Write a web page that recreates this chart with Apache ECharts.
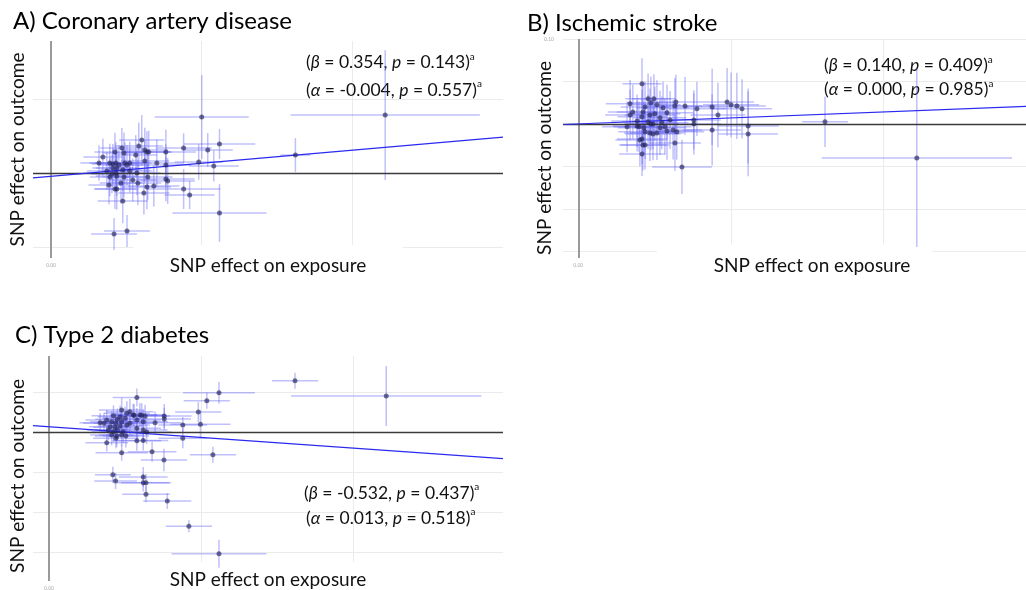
<!DOCTYPE html>
<html>
<head>
<meta charset="utf-8">
<script src="https://cdn.jsdelivr.net/npm/echarts@6/dist/echarts.min.js"></script>
<style>
html,body{margin:0;padding:0;background:#fff;}
#chart{width:1026px;height:590px;}
</style>
</head>
<body>
<div id="chart"></div>
<script>
// ---------- text ----------
const panelTitles = ['A) Coronary artery disease', 'B) Ischemic stroke', 'C) Type 2 diabetes'];
const xAxisTitle = 'SNP effect on exposure';
const yAxisTitle = 'SNP effect on outcome';

// ---------- regression statistics ----------
const betas   = [0.354, 0.140, -0.532];
const betaPs  = [0.143, 0.409, 0.437];
const alphas  = [-0.004, 0.000, 0.013];
const alphaPs = [0.557, 0.985, 0.518];

// ---------- axis ranges and tick values ----------
const xMins = [-0.006, -0.005, -0.00526];
const xMaxs = [0.150, 0.1468, 0.1493];
const yMins = [-0.1145, -0.158, -0.3725];
const yMaxs = [0.179, 0.100, 0.190];
const hGridValues = [[-0.1, 0.1], [-0.15, -0.10, -0.05, 0.05, 0.10], [-0.3, -0.2, -0.1, 0.1]];
const vGridValues = [[0.05, 0.10], [0.05, 0.10], [0.05, 0.10]];
const vGridBottoms = [-0.1, -0.142, -0.3725];
const xTickLabelValues = [0];
const yTickLabelValuesB = [0.10];

// ---------- A) Coronary artery disease ----------
const aX = [0.0500, 0.1109, 0.0811, 0.0559, 0.0520, 0.0490, 0.0540, 0.0440, 0.0440, 0.0460,
            0.0559, 0.0209, 0.0252, 0.0238, 0.0381, 0.0351, 0.0381, 0.0381, 0.0387, 0.0341,
            0.0318, 0.0308, 0.0301, 0.0291, 0.0311, 0.0318, 0.0324, 0.0281, 0.0311, 0.0261,
            0.0242, 0.0212, 0.0235, 0.0172, 0.0159, 0.0195, 0.0205, 0.0215, 0.0225, 0.0245,
            0.0252, 0.0205, 0.0218, 0.0238, 0.0261, 0.0185, 0.0202, 0.0215, 0.0285, 0.0195,
            0.0218, 0.0242, 0.0271, 0.0232, 0.0192, 0.0212, 0.0218, 0.0321, 0.0288];
const aY = [0.0761, 0.0788, 0.0247, 0.0396, 0.0315, 0.0153, 0.0099, 0.0342, -0.0212, -0.0293,
            -0.0536, -0.0820, -0.0780, -0.0374, 0.0288, 0.0139, 0.0112, -0.0077, -0.0104, -0.0172,
            -0.0185, -0.0266, 0.0450, 0.0369, 0.0315, 0.0288, 0.0288, 0.0247, 0.0166, 0.0139,
            0.0274, 0.0288, 0.0342, 0.0220, 0.0139, 0.0139, 0.0126, 0.0139, 0.0112, 0.0139,
            0.0112, 0.0072, 0.0072, 0.0045, 0.0031, 0.0031, -0.0009, 0.0004, 0.0004, -0.0050,
            -0.0036, -0.0050, -0.0090, -0.0131, -0.0158, -0.0212, -0.0212, -0.0050, -0.0131];
const aXErr = [0.0156, 0.0314, 0.0050, 0.0119, 0.0083, 0.0080, 0.0083, 0.0093, 0.0122, 0.0083,
               0.0156, 0.0076, 0.0076, 0.0083, 0.0100, 0.0090, 0.0085, 0.0095, 0.0090, 0.0085,
               0.0080, 0.0085, 0.0075, 0.0080, 0.0078, 0.0082, 0.0075, 0.0070, 0.0080, 0.0072,
               0.0070, 0.0068, 0.0072, 0.0065, 0.0062, 0.0068, 0.0070, 0.0072, 0.0070, 0.0075,
               0.0073, 0.0068, 0.0070, 0.0074, 0.0076, 0.0066, 0.0068, 0.0070, 0.0078, 0.0066,
               0.0070, 0.0072, 0.0076, 0.0071, 0.0068, 0.0070, 0.0072, 0.0082, 0.0078];
const aYErr = [0.0568, 0.0878, 0.0230, 0.0203, 0.0230, 0.0240, 0.0210, 0.0200, 0.0270, 0.0190,
               0.0390, 0.0216, 0.0216, 0.0300, 0.0300, 0.0320, 0.0280, 0.0300, 0.0310, 0.0280,
               0.0300, 0.0290, 0.0340, 0.0320, 0.0300, 0.0280, 0.0290, 0.0270, 0.0280, 0.0290,
               0.0280, 0.0260, 0.0270, 0.0250, 0.0240, 0.0260, 0.0270, 0.0280, 0.0270, 0.0280,
               0.0270, 0.0260, 0.0270, 0.0280, 0.0290, 0.0250, 0.0260, 0.0270, 0.0300, 0.0260,
               0.0270, 0.0280, 0.0290, 0.0280, 0.0260, 0.0270, 0.0280, 0.0310, 0.0300];

// ---------- B) Ischemic stroke ----------
const bX = [0.0209, 0.0170, 0.0229, 0.0248, 0.0238, 0.0212, 0.0179, 0.0219, 0.0258, 0.0278,
            0.0317, 0.0320, 0.0350, 0.0389, 0.0379, 0.0379, 0.0439, 0.0439, 0.0458, 0.0488,
            0.0501, 0.0520, 0.0537, 0.0557, 0.0557, 0.0160, 0.0193, 0.0209, 0.0199, 0.0215,
            0.0219, 0.0235, 0.0245, 0.0258, 0.0291, 0.0311, 0.0323, 0.0268, 0.0284, 0.0209,
            0.0202, 0.0212, 0.0219, 0.0209, 0.0317, 0.0340, 0.0301, 0.0291, 0.0251, 0.0235,
            0.0229, 0.0238, 0.0245, 0.0193, 0.0268, 0.0274, 0.0809, 0.1110, 0.0170];
const bY = [0.0472, 0.0236, 0.0295, 0.0295, 0.0248, 0.0141, 0.0141, 0.0200, 0.0224, 0.0189,
            0.0212, 0.0259, 0.0212, 0.0177, 0.0047, 0.0000, 0.0200, -0.0071, 0.0106, 0.0259,
            0.0224, 0.0212, 0.0177, -0.0024, -0.0118, -0.0035, 0.0035, 0.0083, -0.0035, -0.0047,
            -0.0094, -0.0106, -0.0118, -0.0106, -0.0083, -0.0071, -0.0094, -0.0047, -0.0035, -0.0177,
            -0.0189, -0.0248, -0.0248, -0.0354, -0.0224, -0.0507, 0.0047, 0.0130, 0.0118, 0.0106,
            0.0024, 0.0000, 0.0000, -0.0024, 0.0071, 0.0012, 0.0024, -0.0401, 0.0106];
const bXErr = [0.0064, 0.0080, 0.0075, 0.0072, 0.0078, 0.0085, 0.0082, 0.0080, 0.0078, 0.0085,
               0.0090, 0.0080, 0.0085, 0.0095, 0.0088, 0.0090, 0.0092, 0.0095, 0.0090, 0.0088,
               0.0092, 0.0095, 0.0098, 0.0100, 0.0098, 0.0082, 0.0085, 0.0080, 0.0083, 0.0086,
               0.0088, 0.0085, 0.0090, 0.0088, 0.0092, 0.0095, 0.0090, 0.0086, 0.0088, 0.0082,
               0.0080, 0.0078, 0.0080, 0.0075, 0.0085, 0.0098, 0.0085, 0.0086, 0.0084, 0.0083,
               0.0086, 0.0088, 0.0085, 0.0080, 0.0086, 0.0088, 0.0075, 0.0312, 0.0082];
const bYErr = [0.0300, 0.0280, 0.0300, 0.0290, 0.0310, 0.0330, 0.0320, 0.0300, 0.0290, 0.0310,
               0.0330, 0.0320, 0.0340, 0.0320, 0.0350, 0.0360, 0.0450, 0.0420, 0.0380, 0.0400,
               0.0380, 0.0390, 0.0350, 0.0440, 0.0500, 0.0300, 0.0310, 0.0320, 0.0300, 0.0310,
               0.0320, 0.0330, 0.0310, 0.0320, 0.0340, 0.0350, 0.0330, 0.0320, 0.0330, 0.0300,
               0.0310, 0.0300, 0.0290, 0.0260, 0.0330, 0.0320, 0.0340, 0.0330, 0.0320, 0.0310,
               0.0320, 0.0310, 0.0300, 0.0300, 0.0320, 0.0310, 0.0295, 0.1050, 0.0300];

// ---------- C) Type 2 diabetes ----------
const cX = [0.0809, 0.1109, 0.0559, 0.0519, 0.0491, 0.0498, 0.0440, 0.0440, 0.0539, 0.0378,
            0.0339, 0.0239, 0.0289, 0.0210, 0.0219, 0.0310, 0.0310, 0.0319, 0.0319, 0.0389,
            0.0460, 0.0559, 0.0289, 0.0310, 0.0190, 0.0220, 0.0349, 0.0379, 0.0379, 0.0321,
            0.0305, 0.0316, 0.0289, 0.0280, 0.0239, 0.0266, 0.0256, 0.0277, 0.0212, 0.0234,
            0.0225, 0.0250, 0.0190, 0.0206, 0.0220, 0.0239, 0.0168, 0.0181, 0.0201, 0.0217,
            0.0234, 0.0256, 0.0195, 0.0212, 0.0225, 0.0244, 0.0206, 0.0223, 0.0239, 0.0253,
            0.0310, 0.0266, 0.0289, 0.0310, 0.0299];
const cY = [0.1283, 0.0900, 0.0983, 0.0783, 0.0500, 0.0193, 0.0175, -0.0158, -0.0568, -0.0700,
            -0.0493, -0.0518, 0.0863, -0.1070, -0.1225, -0.1125, -0.1268, -0.1268, -0.1555, -0.1725,
            -0.2355, -0.3043, -0.0218, -0.0213, -0.0268, -0.0158, 0.0233, 0.0400, 0.0325, 0.0000,
            0.0418, 0.0400, 0.0093, 0.0418, 0.0550, 0.0508, 0.0468, 0.0425, 0.0408, 0.0383,
            0.0318, 0.0343, 0.0300, 0.0258, 0.0218, 0.0258, 0.0233, 0.0218, 0.0133, 0.0118,
            0.0150, 0.0175, 0.0050, 0.0008, 0.0050, 0.0008, -0.0075, -0.0100, -0.0075, -0.0100,
            0.0050, 0.0218, 0.0300, 0.0258, 0.0425];
const cXErr = [0.0076, 0.0313, 0.0118, 0.0076, 0.0076, 0.0099, 0.0080, 0.0080, 0.0076, 0.0076,
               0.0080, 0.0086, 0.0080, 0.0059, 0.0070, 0.0080, 0.0085, 0.0082, 0.0078, 0.0079,
               0.0076, 0.0156, 0.0080, 0.0082, 0.0070, 0.0075, 0.0085, 0.0090, 0.0088, 0.0082,
               0.0080, 0.0082, 0.0080, 0.0078, 0.0075, 0.0078, 0.0076, 0.0078, 0.0072, 0.0074,
               0.0073, 0.0076, 0.0070, 0.0071, 0.0073, 0.0075, 0.0068, 0.0069, 0.0070, 0.0072,
               0.0074, 0.0076, 0.0070, 0.0072, 0.0073, 0.0075, 0.0071, 0.0072, 0.0074, 0.0076,
               0.0080, 0.0077, 0.0079, 0.0081, 0.0080];
const cYErr = [0.0200, 0.0750, 0.0275, 0.0200, 0.0250, 0.0350, 0.0200, 0.0250, 0.0200, 0.0280,
               0.0250, 0.0200, 0.0225, 0.0200, 0.0200, 0.0250, 0.0220, 0.0220, 0.0200, 0.0200,
               0.0150, 0.0350, 0.0250, 0.0250, 0.0220, 0.0250, 0.0280, 0.0300, 0.0280, 0.0300,
               0.0300, 0.0280, 0.0300, 0.0280, 0.0300, 0.0320, 0.0300, 0.0280, 0.0260, 0.0280,
               0.0270, 0.0290, 0.0250, 0.0260, 0.0270, 0.0280, 0.0240, 0.0250, 0.0260, 0.0270,
               0.0280, 0.0290, 0.0250, 0.0260, 0.0270, 0.0280, 0.0260, 0.0270, 0.0280, 0.0290,
               0.0300, 0.0280, 0.0300, 0.0290, 0.0300];

// ---------- build ----------
const FONT = 'Lato, "Open Sans", sans-serif';
const panels = [
  {x: aX, y: aY, ex: aXErr, ey: aYErr},
  {x: bX, y: bY, ex: bXErr, ey: bYErr},
  {x: cX, y: cY, ex: cXErr, ey: cYErr}
];

const grids = [
  {left: 33, top: 41, width: 470, height: 217, outerBoundsMode: 'none', containLabel: false},
  {left: 563, top: 39, width: 463, height: 219, outerBoundsMode: 'none', containLabel: false},
  {left: 33, top: 356, width: 470, height: 225, outerBoundsMode: 'none', containLabel: false}
];
const titlePos = [[13, 9], [527, 11], [15, 323]];
const xNamePad = [[11, 37, 4, 37], [11, 22, 4, 57], [8, 37, 4, 37]];
const xNameGap = [-13, -13, -19];
const yNameGap = [6, 9, 6];
const yNamePad = [[0, 0, 0, 0], [0, 19, 0, 0], [0, 15, 0, 0]];
const annPos = [[306, 62.5, 306, 90], [824, 65.5, 824, 89.5], [304, 493, 306, 518]];

function fmt(v) { return v.toFixed(3); }

const rich = {
  n: {fontFamily: FONT, fontSize: 17.5, fill: '#111', color: '#111', lineHeight: 22},
  i: {fontFamily: FONT, fontSize: 17.5, fontStyle: 'italic', fill: '#111', color: '#111', lineHeight: 22},
  s: {fontFamily: FONT, fontSize: 10, fill: '#111', color: '#111', lineHeight: 10, verticalAlign: 'top'}
};

const series = [];
const graphics = [];
panels.forEach((p, i) => {
  const gridData = [];
  hGridValues[i].forEach(v => gridData.push({coords: [[xMins[i], v], [xMaxs[i], v]]}));
  vGridValues[i].forEach(v => gridData.push({coords: [[v, yMaxs[i]], [v, vGridBottoms[i]]]}));
  series.push({
    type: 'lines', coordinateSystem: 'cartesian2d', xAxisIndex: i, yAxisIndex: i,
    z: -1, silent: true, polyline: false,
    lineStyle: {color: '#ebebeb', width: 1, opacity: 1},
    data: gridData
  });
  series.push({
    type: 'lines', coordinateSystem: 'cartesian2d', xAxisIndex: i, yAxisIndex: i,
    z: 1, silent: true,
    lineStyle: {color: '#9a9a9a', width: 2, opacity: 1},
    data: [{coords: [[0, yMins[i]], [0, yMaxs[i]]]}]
  });
  series.push({
    type: 'custom', xAxisIndex: i, yAxisIndex: i, z: 2, silent: true, clip: true,
    encode: {x: 0, y: 1},
    data: p.x.map((v, k) => [v, p.y[k], p.ex[k], p.ey[k]]),
    renderItem: function (params, api) {
      const x = api.value(0), y = api.value(1), ex = api.value(2), ey = api.value(3);
      const l = api.coord([x - ex, y]), r = api.coord([x + ex, y]);
      const t = api.coord([x, y + ey]), b = api.coord([x, y - ey]);
      const st = {stroke: 'rgba(105,105,245,0.42)', lineWidth: 1.5};
      return {type: 'group', children: [
        {type: 'line', shape: {x1: l[0], y1: l[1], x2: r[0], y2: r[1]}, style: st},
        {type: 'line', shape: {x1: t[0], y1: t[1], x2: b[0], y2: b[1]}, style: st}
      ]};
    }
  });
  series.push({
    type: 'lines', coordinateSystem: 'cartesian2d', xAxisIndex: i, yAxisIndex: i,
    z: 3, silent: true,
    lineStyle: {color: '#3a3a3a', width: 1.3, opacity: 1},
    data: [{coords: [[xMins[i], 0], [xMaxs[i], 0]]}]
  });
  series.push({
    type: 'line', xAxisIndex: i, yAxisIndex: i, z: 4, silent: true,
    symbol: 'none',
    lineStyle: {color: '#2a2af0', width: 1.2},
    data: [[xMins[i], alphas[i] + betas[i] * xMins[i]], [xMaxs[i], alphas[i] + betas[i] * xMaxs[i]]]
  });
  series.push({
    type: 'scatter', xAxisIndex: i, yAxisIndex: i, z: 5, silent: true,
    symbolSize: 5,
    itemStyle: {color: 'rgba(35,35,85,0.8)'},
    data: p.x.map((v, k) => [v, p.y[k]])
  });

  const ap = annPos[i];
  graphics.push({
    type: 'text', x: ap[0], y: ap[1], silent: true,
    style: {
      text: '{n|(}{i|β}{n| = ' + fmt(betas[i]) + ', }{i|p}{n| = ' + fmt(betaPs[i]) + ')}{s|a}',
      rich: rich, verticalAlign: 'middle', fill: '#111', font: '17.5px ' + FONT
    }
  });
  graphics.push({
    type: 'text', x: ap[2], y: ap[3], silent: true,
    style: {
      text: '{n|(}{i|α}{n| = ' + fmt(alphas[i]) + ', }{i|p}{n| = ' + fmt(alphaPs[i]) + ')}{s|a}',
      rich: rich, verticalAlign: 'middle', fill: '#111', font: '17.5px ' + FONT
    }
  });
});

const option = {
  animation: false,
  backgroundColor: '#ffffff',
  title: panelTitles.map((t, i) => ({
    text: t, left: titlePos[i][0], top: titlePos[i][1], padding: 0,
    textStyle: {fontFamily: FONT, fontSize: 24, fontWeight: 'normal', color: '#000'}
  })),
  grid: grids,
  xAxis: [0, 1, 2].map(i => ({
    gridIndex: i, type: 'value', min: xMins[i], max: xMaxs[i],
    axisLine: {show: false, onZero: false}, axisTick: {show: false}, splitLine: {show: false},
    axisLabel: {customValues: xTickLabelValues, formatter: v => v.toFixed(2), fontSize: 5,
                color: '#aaaaaa', margin: 5, fontFamily: FONT},
    name: xAxisTitle, nameLocation: 'middle', nameGap: xNameGap[i], nameMoveOverlap: false,
    nameTextStyle: {fontFamily: FONT, fontSize: 19, color: '#111', backgroundColor: '#ffffff',
                    padding: xNamePad[i]}
  })),
  yAxis: [0, 1, 2].map(i => ({
    gridIndex: i, type: 'value', min: yMins[i], max: yMaxs[i],
    axisLine: {show: false, onZero: false}, axisTick: {show: false}, splitLine: {show: false},
    axisLabel: i === 1
      ? {customValues: yTickLabelValuesB, formatter: v => v.toFixed(2), fontSize: 5,
         color: '#aaaaaa', margin: 9, fontFamily: FONT}
      : {show: false},
    name: yAxisTitle, nameLocation: 'middle', nameGap: yNameGap[i], nameMoveOverlap: false,
    nameTextStyle: {fontFamily: FONT, fontSize: 19, color: '#111', padding: yNamePad[i]}
  })),
  graphic: graphics,
  series: series
};

const chart = echarts.init(document.getElementById('chart'), null, {renderer: 'canvas'});
chart.setOption(option);
</script>
</body>
</html>
